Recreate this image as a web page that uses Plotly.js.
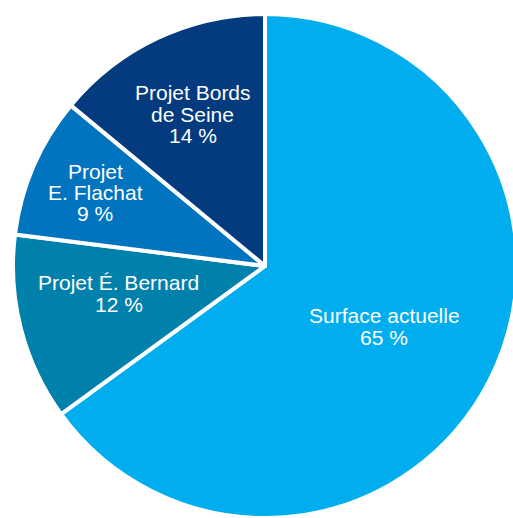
<!DOCTYPE html>
<html>
<head>
<meta charset="utf-8">
<script src="https://cdn.plot.ly/plotly-3.0.1.min.js"></script>
<style>
html,body{margin:0;padding:0;background:#fff;overflow:hidden;width:513px;height:518px;}
#chart{width:530px;height:530px;}
</style>
</head>
<body>
<div id="chart"></div>
<script>
const labels = ["Surface actuelle", "Projet É. Bernard", "Projet<br>E. Flachat", "Projet Bords<br>de Seine"];
const values = [65, 12, 9, 14];
const colors = ["#00AEEF", "#0081AC", "#0074BE", "#033B7E"];

// label placement: fraction of radius along each slice's mid-angle, plus a small vertical nudge (px)
const labelRadius = [0.53, 0.60, 0.735, 0.675];
const labelNudge = [0, 10, 0, -2];
const lineGap = 21.3;
const fontSize = 21;

const data = [{
  type: "pie",
  labels: labels,
  values: values,
  sort: false,
  direction: "clockwise",
  rotation: 0,
  marker: {colors: colors, line: {color: "#ffffff", width: 4}},
  textinfo: "none",
  hoverinfo: "none",
  showlegend: false
}];

const total = values.reduce((a, b) => a + b, 0);
const annotations = [];
let cum = 0;
values.forEach((v, i) => {
  const theta = (cum + v / 2) / total * 2 * Math.PI;
  cum += v;
  const f = labelRadius[i];
  const x = 0.5 + 0.5 * f * Math.sin(theta);
  const y = 0.5 + 0.5 * f * Math.cos(theta);
  const lines = labels[i].split("<br>").concat([v + " %"]);
  const n = lines.length;
  lines.forEach((t, j) => {
    annotations.push({
      xref: "paper", yref: "paper", x: x, y: y,
      xanchor: "center", yanchor: "middle",
      yshift: ((n - 1) / 2 - j) * lineGap + labelNudge[i],
      text: t, showarrow: false,
      font: {family: "Liberation Sans, Arial, sans-serif", size: fontSize, color: "#ffffff"}
    });
  });
});

const layout = {
  width: 530,
  height: 530,
  margin: {l: 13, r: 13, t: 14, b: 12, pad: 0},
  paper_bgcolor: "#ffffff",
  showlegend: false,
  annotations: annotations
};

Plotly.newPlot("chart", data, layout, {staticPlot: true, displayModeBar: false});
</script>
</body>
</html>
